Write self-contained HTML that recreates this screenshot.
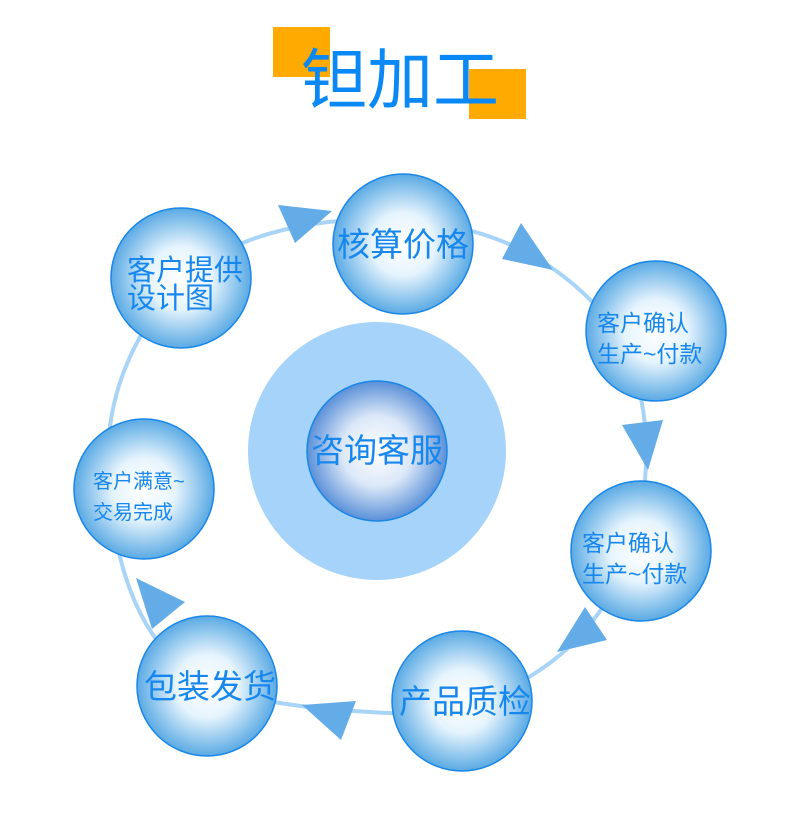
<!DOCTYPE html>
<html><head><meta charset="utf-8"><style>
body{margin:0;background:#fff;}
svg text{font-family:"Liberation Sans","Noto Sans CJK SC",sans-serif;fill:#1787ee;text-anchor:middle;}
svg text.l{text-anchor:start;}
</style></head><body>
<svg width="800" height="814" viewBox="0 0 800 814" xmlns="http://www.w3.org/2000/svg">
<defs>
<radialGradient id="g" cx="50%" cy="50%" r="50%">
<stop offset="0" stop-color="#ffffff"/><stop offset="0.45" stop-color="#e6f4fd"/><stop offset="1" stop-color="#5aaae4"/>
</radialGradient>
<radialGradient id="c" cx="50%" cy="50%" r="50%">
<stop offset="0" stop-color="#ffffff"/><stop offset="0.5" stop-color="#dce8f8"/><stop offset="1" stop-color="#5a90d8"/>
</radialGradient>
</defs>
<rect x="273" y="27" width="57" height="50" fill="#ffaa00"/>
<rect x="469" y="69" width="57" height="50" fill="#ffaa00"/>
<text x="400" y="103" font-size="66" style="fill:#0a88f5">钽加工</text>
<path d="M181,278 C230,240 300,215 403,220 C480,225 545,250 600,310 C640,360 650,420 645,480 C640,560 600,630 540,670 C480,710 420,716 370,712 C300,708 240,700 200,680 C150,650 120,590 110,500 C100,420 120,350 181,278 Z" fill="none" stroke="#a8d4f8" stroke-width="4"/>
<circle cx="377" cy="451" r="129" fill="#a5d3fa"/>
<circle cx="377" cy="451" r="70" fill="url(#c)" stroke="#1a86e8" stroke-width="1.5"/>
<text x="377" y="462" font-size="33">咨询客服</text>
<g fill="#64ace8">
<polygon points="278,205 332,211 295,243"/>
<polygon points="521,223 553,270 502,259"/>
<polygon points="622,425 663,420 648,470"/>
<polygon points="585,607 607,640 557,652"/>
<polygon points="356,701 341,740 302,705"/>
<polygon points="136,578 185,602 152,629"/>
</g>
<g stroke="#1a86e8" stroke-width="1.5" fill="url(#g)">
<circle cx="403" cy="244" r="70"/>
<circle cx="181" cy="278" r="70"/>
<circle cx="656" cy="331" r="70"/>
<circle cx="641" cy="551" r="70"/>
<circle cx="462" cy="701" r="70"/>
<circle cx="207" cy="686" r="70"/>
<circle cx="144" cy="489" r="70"/>
</g>
<text x="403" y="256" font-size="33">核算价格</text>
<text class="l" x="127" y="280" font-size="29">客户提供</text>
<text class="l" x="127" y="308" font-size="29">设计图</text>
<text class="l" x="597" y="331" font-size="23">客户确认</text>
<text class="l" x="597" y="362" font-size="23">生产~付款</text>
<text class="l" x="582" y="551" font-size="23">客户确认</text>
<text class="l" x="582" y="582" font-size="23">生产~付款</text>
<text x="465" y="713" font-size="33">产品质检</text>
<text x="210" y="698" font-size="33">包装发货</text>
<text class="l" x="93" y="488" font-size="20">客户满意~</text>
<text class="l" x="93" y="519" font-size="20">交易完成</text>
</svg>
</body></html>
